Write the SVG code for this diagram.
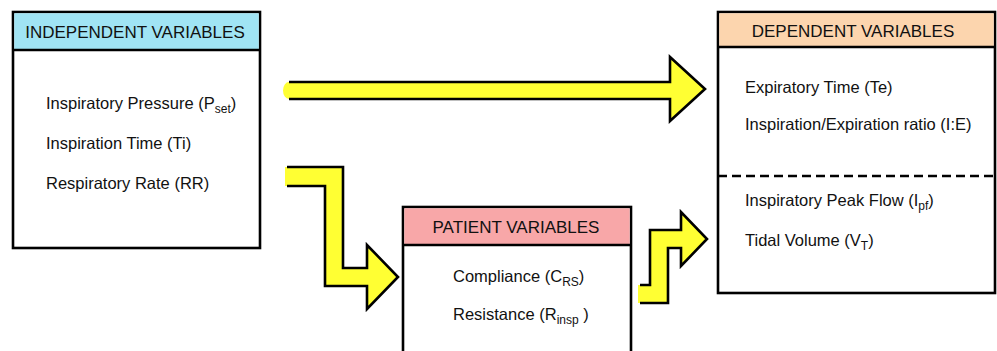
<svg xmlns="http://www.w3.org/2000/svg" width="997" height="351" viewBox="0 0 997 351">
  <style>
    .box { fill: #ffffff; stroke: #000000; stroke-width: 2.6; }
    .rule { stroke: #000000; stroke-width: 2.6; }
    .title { font-family: "Liberation Sans", Arial, Helvetica, sans-serif; font-size: 17px; fill: #111111; text-anchor: middle; }
    .item { font-family: "Liberation Sans", Arial, Helvetica, sans-serif; font-size: 16.5px; fill: #111111; }
    .sub { font-size: 12px; }
    .arrow-fill { fill: #ffff33; stroke: none; }
    .arrow-edge { fill: none; stroke: #000000; stroke-width: 2.6; stroke-linejoin: miter; }
  </style>

  <!-- Independent variables -->
  <g id="independent">
    <rect class="box" x="13" y="12" width="247" height="236"/>
    <rect x="14.3" y="13.3" width="244.4" height="36.7" fill="#a0e4f4"/>
    <line class="rule" x1="13" y1="50" x2="260" y2="50"/>
    <text class="title" x="135" y="38">INDEPENDENT VARIABLES</text>
    <text class="item" x="46" y="109">Inspiratory Pressure (P<tspan class="sub" dy="4">set</tspan><tspan dy="-4">)</tspan></text>
    <text class="item" x="46" y="149">Inspiration Time (Ti)</text>
    <text class="item" x="46" y="189">Respiratory Rate (RR)</text>
  </g>

  <!-- Dependent variables -->
  <g id="dependent">
    <rect class="box" x="718" y="12" width="277" height="281"/>
    <rect x="719.3" y="13.3" width="274.4" height="33.7" fill="#fcd5ae"/>
    <line class="rule" x1="718" y1="47" x2="995" y2="47"/>
    <text class="title" x="853" y="37">DEPENDENT VARIABLES</text>
    <text class="item" x="745" y="93">Expiratory Time (Te)</text>
    <text class="item" x="745" y="130">Inspiration/Expiration ratio (I:E)</text>
    <line x1="718" y1="176" x2="995" y2="176" stroke="#000000" stroke-width="2.4" stroke-dasharray="9 5"/>
    <text class="item" x="745" y="206">Inspiratory Peak Flow (I<tspan class="sub" dy="4">pf</tspan><tspan dy="-4">)</tspan></text>
    <text class="item" x="745" y="246">Tidal Volume (V<tspan class="sub" dy="4">T</tspan><tspan dy="-4">)</tspan></text>
  </g>

  <!-- Patient variables -->
  <g id="patient">
    <rect class="box" x="403" y="207" width="228" height="170"/>
    <rect x="404.3" y="208.3" width="225.4" height="36.7" fill="#f8a7a8"/>
    <line class="rule" x1="403" y1="245" x2="631" y2="245"/>
    <text class="title" x="516" y="233">PATIENT VARIABLES</text>
    <text class="item" x="453" y="282">Compliance (C<tspan class="sub" dy="4">RS</tspan><tspan dy="-4">)</tspan></text>
    <text class="item" x="453" y="320">Resistance (R<tspan class="sub" dy="4">insp</tspan><tspan dy="-4"> )</tspan></text>
  </g>

  <!-- Connectors: block arrows -->
  <g id="connectors">
    <!-- independent -> dependent -->
    <path class="arrow-fill" d="M289,82 H670 V57 L705,89 L670,121 V99 H289 A6 8.5 0 0 1 289,82 Z"/>
    <polyline class="arrow-edge" points="289,82 670,82 670,57 705,89 670,121 670,99 289,99"/>
    <!-- independent -> patient -->
    <path class="arrow-fill" d="M285,167 H343 V268 H367 V245 L398,277 L367,309 V286 H325 V186 H285 Z"/>
    <polyline class="arrow-edge" points="287,167 343,167 343,268 367,268 367,245 398,277 367,309 367,286 325,286 325,186 287,186"/>
    <!-- patient -> dependent -->
    <path class="arrow-fill" d="M638,285 H650 V230 H681 V212 L707,239 L681,266 V248 H668 V303 H638 Z"/>
    <polyline class="arrow-edge" points="640,285 650,285 650,230 681,230 681,212 707,239 681,266 681,248 668,248 668,303 640,303"/>
  </g>
</svg>
